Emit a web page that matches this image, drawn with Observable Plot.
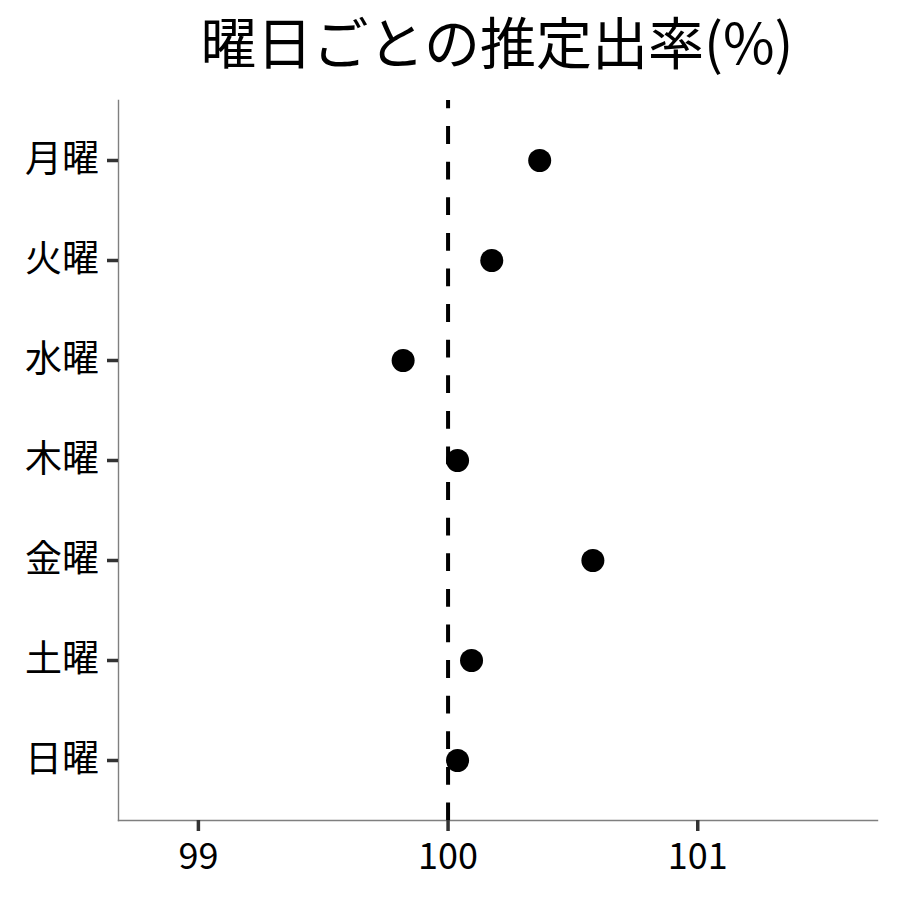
<!DOCTYPE html>
<html>
<head>
<meta charset="utf-8">
<script src="https://cdn.jsdelivr.net/npm/d3@7"></script>
<script src="https://cdn.jsdelivr.net/npm/@observablehq/plot@0.6"></script>
<style>
  html, body { margin: 0; padding: 0; background: white; }
  #wrap { width: 900px; height: 900px; overflow: hidden; }
  #title {
    box-sizing: border-box;
    width: 900px; height: 92px;
    padding-left: 94px;
    text-align: center;
    font-family: "Noto Sans CJK JP", sans-serif;
    font-size: 56px;
    line-height: 80px;
    color: black;
    white-space: nowrap;
  }
  svg { display: block; }
</style>
</head>
<body>
<div id="wrap">
  <div id="title">曜日ごとの推定出率(%)</div>
  <div id="chart"></div>
</div>
<script>
const titleText = "曜日ごとの推定出率(%)";
const days = ["月曜", "火曜", "水曜", "木曜", "金曜", "土曜", "日曜"];
const rates = [100.367, 100.175, 99.82, 100.038, 100.58, 100.094, 100.038];
const xTicks = [99, 100, 101];
const xLimits = [98.68, 101.72];
const reference = [100];

const data = days.map((d, i) => ({day: d, rate: rates[i]}));

const plot = Plot.plot({
  width: 900,
  height: 808,
  marginTop: 8,
  marginBottom: 80,
  marginLeft: 118,
  marginRight: 23,
  style: {fontFamily: "Noto Sans CJK JP, sans-serif", fontSize: "36px", background: "white", color: "black"},
  x: {domain: xLimits, ticks: xTicks, label: null},
  y: {type: "point", domain: days, padding: 0.6, label: null},
  marks: [
    Plot.frame({anchor: "left", stroke: "#7f7f7f", strokeWidth: 1.4}),
    Plot.frame({anchor: "bottom", stroke: "#7f7f7f", strokeWidth: 1.4}),
    Plot.axisX({ticks: xTicks, tickSize: 11, tickPadding: 12, stroke: "#333333", strokeWidth: 3.5, color: "black", fontSize: 36, label: null, tickFormat: d => String(d)}),
    Plot.axisY({tickSize: 11, tickPadding: 8.5, stroke: "#333333", strokeWidth: 3.5, color: "black", fontSize: 37, label: null}),
    Plot.dot(data, {x: "rate", y: "day", r: 11.5, fill: "black", stroke: "none"}),
    Plot.ruleX(reference, {stroke: "black", strokeWidth: 4, strokeDasharray: "17.8,17.8", strokeDashoffset: 9.5})
  ]
});
document.getElementById("chart").appendChild(plot);
</script>
</body>
</html>
